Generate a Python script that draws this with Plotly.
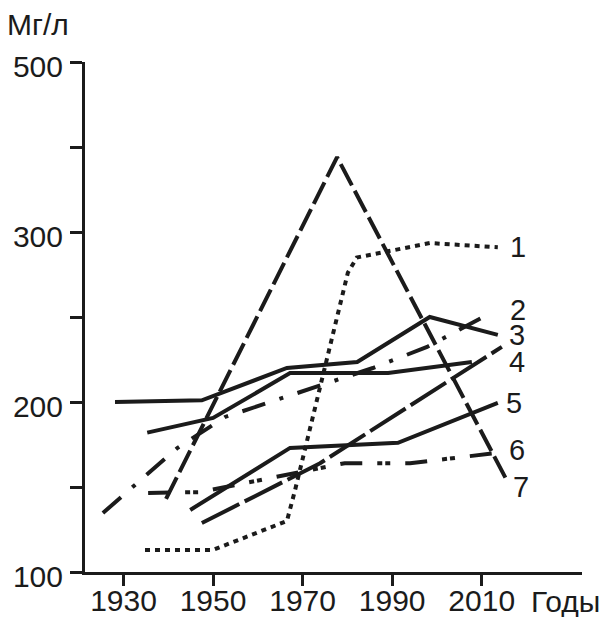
import numpy as np
import plotly.graph_objects as go

# ---------------- data (mg/l by year) ----------------
years_1 = [1934.8, 1950.0, 1966.5, 1968.3, 1980.1, 1982.1, 1998.4, 2013.6]
vals_1 = [113, 113, 130, 148, 276, 285, 293.5, 291]

years_2 = [1925.4, 1942.0, 1952.7, 1973.2, 1985.7, 1997.8, 2012.5]
vals_2 = [134.7, 172.9, 191.2, 208.8, 220, 232.4, 253]

years_3 = [1928.1, 1947.5, 1966.5, 1982.2, 1998.4, 2013.6]
vals_3 = [200, 201, 220, 223.5, 250, 239.5]

years_4 = [1935.3, 1950.0, 1967.2, 1989.1, 2007.8]
vals_4 = [182, 190.6, 217, 217, 223.5]

years_4b = [1947.5, 1973.9, 2014.5]
vals_4b = [128.8, 164, 232.4]

years_5 = [1944.9, 1967.2, 1991.3, 2013.6]
vals_5 = [136.5, 173, 176, 199.5]

years_6 = [1935.5, 1947.1, 1979.4, 1994.0, 2015.2]
vals_6 = [146.5, 147, 164, 164, 170.6]

years_7 = [1939.5, 1977.7, 2015.8]
vals_7 = [143, 388, 153]

x_ticks = [1930, 1950, 1970, 1990, 2010]
y_ticks = [100, 150, 200, 250, 300, 400, 500]
y_ticklabels = ["100", "", "200", "", "300", "", "500"]
series_labels = ["1", "2", "3", "4", "5", "6", "7"]

# broken (piecewise-linear) value axis: 50 mg/l per step below 300, 100 above
BREAK_V = [100, 300, 500]
BREAK_U = [0, 4, 6]


def scale(v):
    return np.interp(np.asarray(v, dtype=float), BREAK_V, BREAK_U)


INK = "#1b1b1b"
FONT = "Liberation Sans, Arial, sans-serif"
FS = 30
LW = 4

series = [
    (years_1, vals_1, "5px,5px"),
    (years_2, vals_2, "24px,15px,4px,15px"),
    (years_3, vals_3, "solid"),
    (years_4, vals_4, "solid"),
    (years_4b, vals_4b, "42px,6px"),
    (years_5, vals_5, "solid"),
    (years_6, vals_6, "22px,15px,5px,3px,5px,15px"),
    (years_7, vals_7, "24px,6px"),
]

fig = go.Figure()
for xs, vs, dash in series:
    fig.add_trace(go.Scatter(
        x=xs, y=scale(vs), mode="lines",
        line=dict(color=INK, width=LW, dash=dash),
        hoverinfo="skip", showlegend=False,
    ))

# plot-area geometry (pixels) used to place free text
L, R, T, B = 85, 582, 62, 572
W, H = R - L, B - T


def px(xp, yp):
    return (xp - L) / W, (B - yp) / H


label_pos = [(518, 247), (518, 310), (517, 335), (517, 362),
             (514, 403), (517, 450), (521, 487)]
annotations = []
for txt, (xp, yp) in zip(series_labels, label_pos):
    ax_, ay_ = px(xp, yp)
    annotations.append(dict(text=txt, x=ax_, y=ay_, xref="paper", yref="paper",
                            xanchor="center", yanchor="middle", showarrow=False,
                            font=dict(size=29, color=INK, family=FONT)))
for txt, (xp, yp) in [("Мг/л", (38, 24)), ("Годы", (565, 601))]:
    ax_, ay_ = px(xp, yp)
    annotations.append(dict(text=txt, x=ax_, y=ay_, xref="paper", yref="paper",
                            xanchor="center", yanchor="middle", showarrow=False,
                            font=dict(size=FS, color=INK, family=FONT)))

fig.update_layout(
    width=601, height=617,
    margin=dict(l=L, r=601 - R, t=T, b=617 - B, autoexpand=False),
    paper_bgcolor="white", plot_bgcolor="white",
    font=dict(family=FONT, size=FS, color=INK),
    annotations=annotations,
    xaxis=dict(
        range=[1921.4, 2032.4], tickvals=x_ticks,
        ticktext=[str(t) for t in x_ticks], automargin=False,
        showgrid=False, zeroline=False, showline=True,
        linecolor=INK, linewidth=3, ticks="outside", ticklen=11,
        tickwidth=3, tickcolor=INK, ticklabelstandoff=-11,
    ),
    yaxis=dict(
        range=[0, 6], tickvals=scale(y_ticks), ticktext=y_ticklabels,
        automargin=False,
        showgrid=False, zeroline=False, showline=True,
        linecolor=INK, linewidth=3, ticks="outside", ticklen=12,
        tickwidth=3, tickcolor=INK, ticklabelstandoff=1, ticklabelshift=4,
    ),
)

fig.write_html("out.html", config={"displayModeBar": False})

# remove the browser's default page margin so the figure fills the window exactly
with open("out.html", encoding="utf-8") as f:
    page = f.read()
page = page.replace(
    "<head>",
    "<head><style>html,body{margin:0;padding:0;overflow:hidden;}</style>", 1)
with open("out.html", "w", encoding="utf-8") as f:
    f.write(page)
